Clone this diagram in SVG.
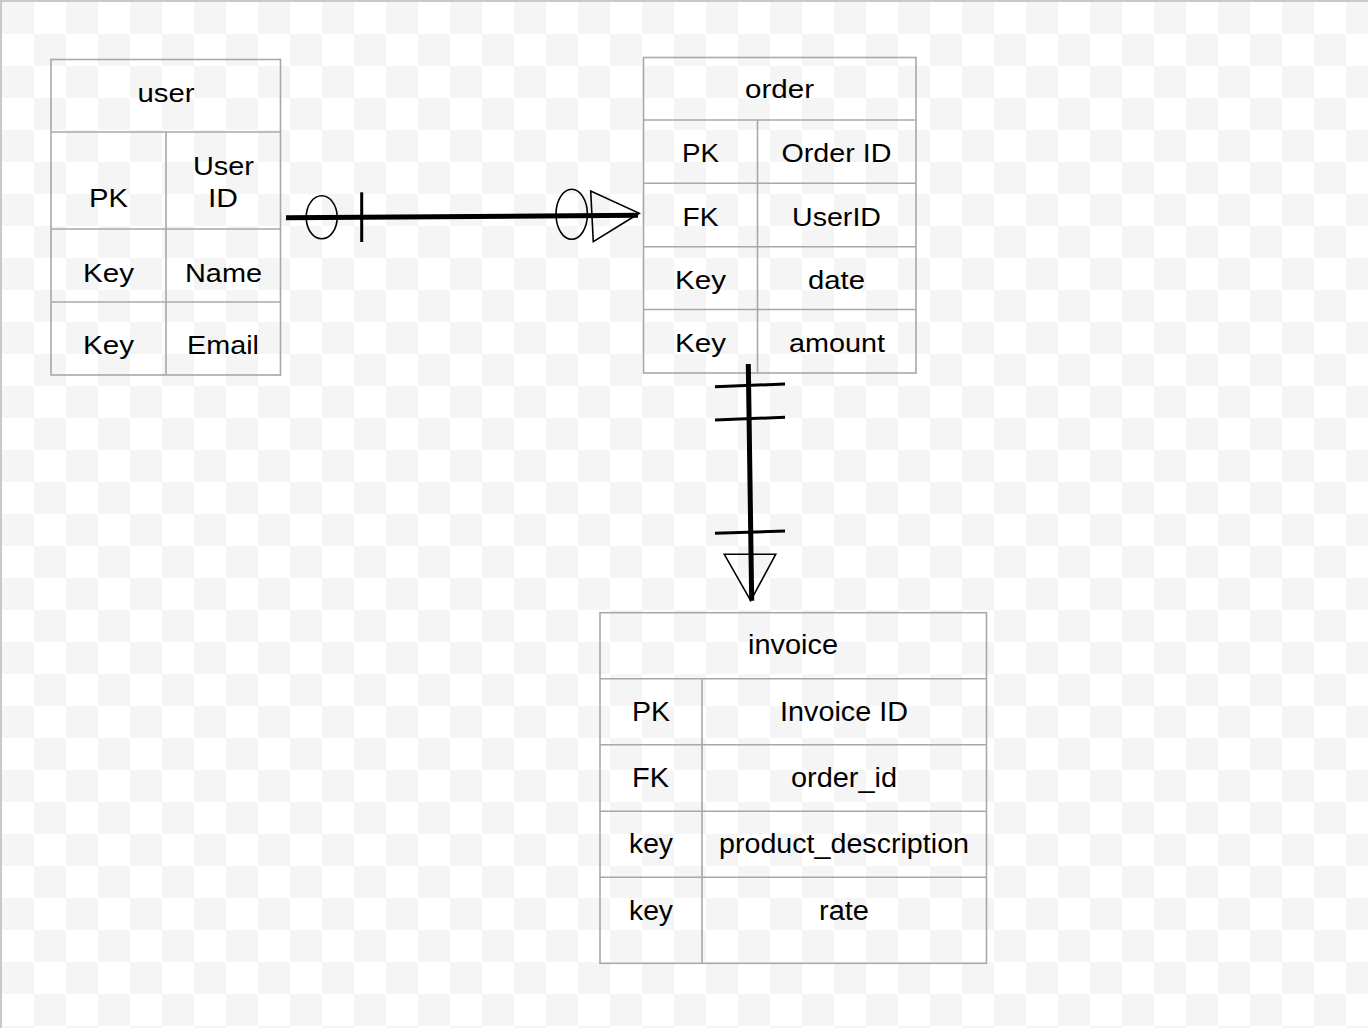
<svg xmlns="http://www.w3.org/2000/svg" width="1368" height="1028" viewBox="0 0 1368 1028">
<defs>
<pattern id="checker" x="2" y="2" width="64" height="64" patternUnits="userSpaceOnUse">
<rect x="0" y="0" width="64" height="64" fill="#ffffff"/>
<rect x="0" y="0" width="32" height="32" fill="#f5f5f5"/>
<rect x="32" y="32" width="32" height="32" fill="#f5f5f5"/>
</pattern>
<style>
.tbl { fill: none; stroke: #a8a8a8; stroke-width: 1.6; }
.t { font-family: "Liberation Sans", Arial, sans-serif; fill: #000; text-anchor: middle; font-size: 25px; }
.ti { font-size: 27px; }
.rel { stroke: #000; stroke-width: 5; fill: none; }
.thin { stroke: #000; stroke-width: 1.6; fill: none; }
.bar { stroke: #000; stroke-width: 3; fill: none; }
</style>
</defs>
<rect x="0" y="0" width="1368" height="1028" fill="url(#checker)"/>
<line x1="0" y1="1" x2="1368" y2="1" stroke="#c8c8c8" stroke-width="2"/>
<line x1="1" y1="0" x2="1" y2="1028" stroke="#c8c8c8" stroke-width="2"/>

<g id="user">
<rect class="tbl" x="51" y="59.5" width="229.5" height="315.5"/>
<line class="tbl" x1="51" y1="132" x2="280.5" y2="132"/>
<line class="tbl" x1="51" y1="229" x2="280.5" y2="229"/>
<line class="tbl" x1="51" y1="302" x2="280.5" y2="302"/>
<line class="tbl" x1="166" y1="132" x2="166" y2="375"/>
<text class="t" x="166" y="101.7" textLength="57" lengthAdjust="spacingAndGlyphs">user</text>
<text class="t" x="108.5" y="206.7" textLength="39" lengthAdjust="spacingAndGlyphs">PK</text>
<text class="t" x="223.5" y="175" textLength="61" lengthAdjust="spacingAndGlyphs">User</text>
<text class="t" x="223" y="206.7" textLength="30" lengthAdjust="spacingAndGlyphs">ID</text>
<text class="t" x="108.5" y="281.7" textLength="51" lengthAdjust="spacingAndGlyphs">Key</text>
<text class="t" x="223.5" y="281.7" textLength="77" lengthAdjust="spacingAndGlyphs">Name</text>
<text class="t" x="108.5" y="354" textLength="51" lengthAdjust="spacingAndGlyphs">Key</text>
<text class="t" x="223" y="354" textLength="72" lengthAdjust="spacingAndGlyphs">Email</text>
</g>

<g id="order">
<rect class="tbl" x="643.5" y="57.5" width="272.5" height="315.5"/>
<line class="tbl" x1="643.5" y1="120" x2="916" y2="120"/>
<line class="tbl" x1="643.5" y1="183.3" x2="916" y2="183.3"/>
<line class="tbl" x1="643.5" y1="246.7" x2="916" y2="246.7"/>
<line class="tbl" x1="643.5" y1="309.5" x2="916" y2="309.5"/>
<line class="tbl" x1="757.5" y1="120" x2="757.5" y2="373"/>
<text class="t" x="779.5" y="98.3" textLength="69" lengthAdjust="spacingAndGlyphs">order</text>
<text class="t" x="700.5" y="161.7" textLength="37" lengthAdjust="spacingAndGlyphs">PK</text>
<text class="t" x="836.5" y="161.7" textLength="110" lengthAdjust="spacingAndGlyphs">Order ID</text>
<text class="t" x="700.5" y="225.7" textLength="36" lengthAdjust="spacingAndGlyphs">FK</text>
<text class="t" x="836.5" y="225.7" textLength="89" lengthAdjust="spacingAndGlyphs">UserID</text>
<text class="t" x="700.5" y="288.5" textLength="51" lengthAdjust="spacingAndGlyphs">Key</text>
<text class="t" x="836.5" y="288.5" textLength="57" lengthAdjust="spacingAndGlyphs">date</text>
<text class="t" x="700.5" y="351.7" textLength="51" lengthAdjust="spacingAndGlyphs">Key</text>
<text class="t" x="837" y="351.7" textLength="96" lengthAdjust="spacingAndGlyphs">amount</text>
</g>

<g id="invoice">
<rect class="tbl" x="600" y="612.7" width="386.5" height="350.6"/>
<line class="tbl" x1="600" y1="678.7" x2="986.5" y2="678.7"/>
<line class="tbl" x1="600" y1="744.7" x2="986.5" y2="744.7"/>
<line class="tbl" x1="600" y1="811.3" x2="986.5" y2="811.3"/>
<line class="tbl" x1="600" y1="877.3" x2="986.5" y2="877.3"/>
<line class="tbl" x1="702" y1="678.7" x2="702" y2="963.3"/>
<text class="t ti" x="793" y="654.3" textLength="90" lengthAdjust="spacingAndGlyphs">invoice</text>
<text class="t ti" x="651" y="720.7" textLength="38" lengthAdjust="spacingAndGlyphs">PK</text>
<text class="t ti" x="844" y="720.7" textLength="128" lengthAdjust="spacingAndGlyphs">Invoice ID</text>
<text class="t ti" x="650.5" y="786.7" textLength="37" lengthAdjust="spacingAndGlyphs">FK</text>
<text class="t ti" x="844" y="786.7" textLength="106" lengthAdjust="spacingAndGlyphs">order_id</text>
<text class="t ti" x="651" y="853.3" textLength="44" lengthAdjust="spacingAndGlyphs">key</text>
<text class="t ti" x="844" y="853.3" textLength="250" lengthAdjust="spacingAndGlyphs">product_description</text>
<text class="t ti" x="651" y="919.5" textLength="44" lengthAdjust="spacingAndGlyphs">key</text>
<text class="t ti" x="844" y="919.5" textLength="50" lengthAdjust="spacingAndGlyphs">rate</text>
</g>

<g id="connectors">
<g id="user-order">
<line class="rel" x1="286" y1="217.7" x2="638" y2="215.3"/>
<ellipse class="thin" cx="321.7" cy="217.3" rx="15.5" ry="21.5"/>
<line class="bar" x1="361.7" y1="192.3" x2="361.7" y2="242"/>
<ellipse class="thin" cx="571.7" cy="214.3" rx="15.7" ry="25"/>
<polygon class="thin" points="590.7,191 593.3,241.7 639.3,213.3"/>
</g>
<g id="order-invoice">
<line class="rel" x1="748.3" y1="364" x2="751.7" y2="600.7"/>
<line class="bar" x1="715" y1="386.7" x2="785" y2="384"/>
<line class="bar" x1="715" y1="420" x2="785" y2="417.3"/>
<line class="bar" x1="715" y1="533.3" x2="785" y2="531"/>
<polygon class="thin" points="724.3,554.3 775.7,554.3 750.7,600.7"/>
</g>
</g>
</svg>
